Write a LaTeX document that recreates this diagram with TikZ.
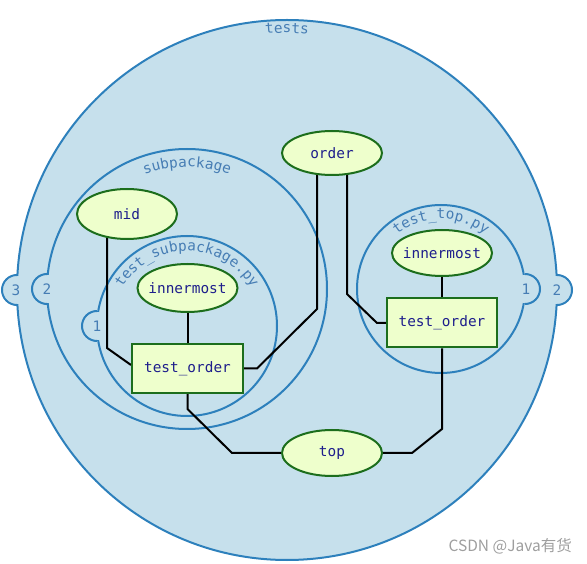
\documentclass[tikz,border=0pt]{standalone}
\usepackage{fontspec}
\newfontfamily\mono{DejaVu Sans Mono}
\newfontfamily\cjk{Noto Sans CJK SC}
\usetikzlibrary{shapes.geometric}
\definecolor{cfill}{RGB}{198,224,236}
\definecolor{cline}{RGB}{45,128,188}
\definecolor{lab}{RGB}{70,125,180}
\definecolor{nfill}{RGB}{238,255,204}
\definecolor{nline}{RGB}{28,110,28}
\definecolor{ntext}{RGB}{30,30,140}
\newcommand\nodefont{\mono\fontsize{14.4}{16}\selectfont}
% #1 x, #2 y of centre, #3 radius of baseline, #4 number of chars, #5 list of chars
\newcommand\curvetext[5]{%
  \pgfmathsetmacro\dstep{8.67/#3*180/pi}%
  \foreach \ch [count=\i from 0] in {#5}{%
    \pgfmathsetmacro\ang{90+((#4-1)/2-\i)*\dstep}%
    \pgfmathsetmacro\rot{\ang-90}%
    \path (#1,#2) ++(\ang:#3) node[lblchar, rotate=\rot] {\ch};
  }%
}
\pgfdeclarelayer{circ}
\pgfdeclarelayer{edges}
\pgfsetlayers{circ,edges,main}
\tikzset{
  pkg/.style={draw=cline, fill=cfill, line width=2pt},
  tabarc/.style={draw=cline, line width=2pt},
  tabnum/.style={font=\nodefont, text=lab, inner sep=0pt},
  lblchar/.style={font=\nodefont, text=lab, inner sep=0pt, anchor=base},
  oval/.style={ellipse, draw=nline, fill=nfill, line width=2pt, inner sep=0pt, minimum width=100pt, font=\nodefont, text=ntext},
  box/.style={rectangle, draw=nline, fill=nfill, line width=2pt, inner sep=0pt, minimum width=110pt, minimum height=49pt, font=\nodefont, text=ntext},
  edge/.style={draw=black, line width=2pt}
}
\begin{document}
\begin{tikzpicture}[x=1pt,y=1pt]
\useasboundingbox (0,0) rectangle (587,563);
\begin{pgfonlayer}{circ}
  % package circles
  \path[pkg] (287,273) circle[radius=270];
  \path[pkg] (187,274) circle[radius=140];
  \path[pkg] (187,237) circle[radius=90];
  \path[pkg] (441,274) circle[radius=84];
  % tabs
  \coordinate (t3) at (17,273);
  \coordinate (t2l) at (47,274);
  \coordinate (t1l) at (97,237);
  \coordinate (t1r) at (525,274);
  \coordinate (t2r) at (557,273);
  \foreach \p in {t3,t2l,t1l}{
    \fill[cfill] (\p) circle[radius=14];
    \draw[tabarc] (\p) ++(90:15) arc[start angle=90, end angle=270, radius=15];
  }
  \foreach \p in {t1r,t2r}{
    \fill[cfill] (\p) circle[radius=14];
    \draw[tabarc] (\p) ++(90:15) arc[start angle=90, end angle=-90, radius=15];
  }
  \node[tabnum] (n3) at ([xshift=-1pt]t3) {3};
  \node[tabnum] (n2l) at (t2l) {2};
  \node[tabnum] (n1l) at (t1l) {1};
  \node[tabnum] (n1r) at ([xshift=1pt]t1r) {1};
  \node[tabnum] (n2r) at (t2r) {2};
  % circle labels
  \curvetext{287}{273}{257}{5}{t,e,s,t,s}
  \curvetext{187}{274}{122}{10}{s,u,b,p,a,c,k,a,g,e}
  \curvetext{187}{237}{75}{18}{t,e,s,t,\_,s,u,b,p,a,c,k,a,g,e,.,p,y}
  \curvetext{441}{274}{70}{11}{t,e,s,t,\_,t,o,p,.,p,y}
\end{pgfonlayer}

% nodes
\node[oval, minimum height=44pt] (order) at (332,410) {\makebox[0pt]{order}};
\node[oval, minimum height=50pt] (mid) at (127,349) {\makebox[0pt]{mid}};
\node[oval, minimum height=48pt] (inL) at (187.5,275) {\makebox[0pt]{innermost}};
\node[box, minimum width=111pt] (tol) at (187.5,194.5) {test\_order};
\node[oval, minimum height=46pt] (inR) at (442,310) {\makebox[0pt]{innermost}};
\node[box] (tor) at (442,240) {test\_order};
\node[oval, minimum height=46pt] (top) at (332,110) {\makebox[0pt]{top}};

% bends
\coordinate (m1) at (107,215);
\coordinate (b1) at (187.5,154);
\coordinate (b2) at (232,110);
\coordinate (b3) at (412,110);
\coordinate (b4) at (442,134);
\coordinate (o1) at (317,254);
\coordinate (o2) at (257,194.5);
\coordinate (o3) at (347,269);
\coordinate (o4) at (377,240);

\begin{pgfonlayer}{edges}
  \draw[edge] (mid.center -| m1) -- (m1) -- ([yshift=3.5pt]tol.west);
  \draw[edge] (inL) -- (tol);
  \draw[edge] (tol) -- (b1) -- (b2) -- (top);
  \draw[edge] (top) -- (b3) -- (b4) -- (tor);
  \draw[edge] (order.center -| o1) -- (o1) -- (o2) -- (tol);
  \draw[edge] (order.center -| o3) -- (o3) -- (o4) -- (tor);
  \draw[edge] (inR) -- (tor);
\end{pgfonlayer}

% watermark
\node[anchor=base east, inner sep=0pt, text=black!38, font=\cjk\fontsize{15.5}{18}\selectfont] (wm) at (572,12) {CSDN @Java有货};
\end{tikzpicture}
\end{document}
